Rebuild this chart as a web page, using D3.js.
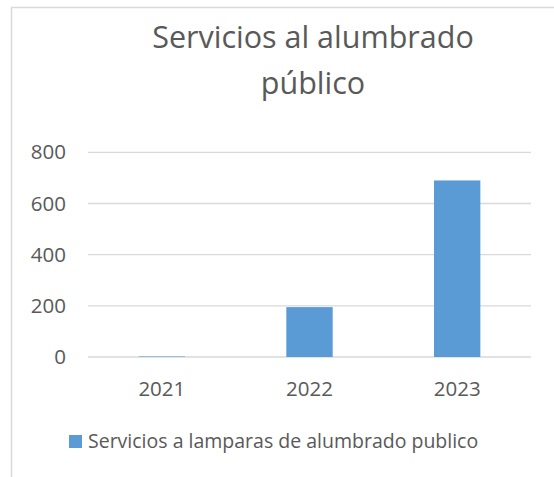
<!DOCTYPE html>
<html>
<head>
<meta charset="utf-8">
<script src="https://cdn.jsdelivr.net/npm/d3@7"></script>
<style>
  body { margin: 0; background: #fff; }
  svg { display: block; }
  text { font-family: "Open Sans", sans-serif; fill: #595959; }
</style>
</head>
<body>
<div id="chart"></div>
<script>
// data
var years = ["2021", "2022", "2023"];
var servicios = [2, 195, 690];
var yTicks = [0, 200, 400, 600, 800];
var titleLines = ["Servicios al alumbrado", "público"];
var seriesName = "Servicios a lamparas de alumbrado publico";

var width = 554, height = 477;
var barColor = "#5b9bd5";

var svg = d3.select("#chart")
  .append("svg")
    .attr("width", width)
    .attr("height", height);

// chart frame (cut off on right / bottom)
svg.append("path")
  .attr("d", "M11.5," + height + "V7.5H" + width)
  .attr("fill", "none")
  .attr("stroke", "#d9d9d9")
  .attr("stroke-width", 1.5);

// title
svg.append("text")
  .attr("text-anchor", "middle")
  .style("font-size", "30.5px")
  .selectAll("tspan")
  .data(titleLines)
  .enter().append("tspan")
    .attr("x", 313)
    .attr("y", function(d, i) { return 48 + i * 46; })
    .text(function(d) { return d; });

var plotLeft = 88, plotRight = 531, plotTop = 152.3, plotBottom = 357;

var x = d3.scaleBand()
  .domain(years)
  .range([plotLeft, plotRight])
  .paddingInner(0.686)
  .paddingOuter(0.343);

var y = d3.scaleLinear()
  .domain([0, 800])
  .range([plotBottom, plotTop]);

// gridlines
svg.append("g")
  .selectAll("line")
  .data(yTicks)
  .enter().append("line")
    .attr("x1", plotLeft)
    .attr("x2", plotRight)
    .attr("y1", function(d) { return y(d); })
    .attr("y2", function(d) { return y(d); })
    .attr("stroke", "#d9d9d9")
    .attr("stroke-width", 1.3);

// y axis labels
var yAxis = svg.append("g")
  .attr("transform", "translate(" + plotLeft + ",0)")
  .call(d3.axisLeft(y).tickValues(yTicks).tickSize(0).tickPadding(22));
yAxis.select(".domain").remove();
yAxis.selectAll("text")
  .style("font-size", "20.5px")
  .style("font-family", "Open Sans, sans-serif")
  .attr("fill", "#595959");

// bars
svg.append("g")
  .selectAll("rect")
  .data(servicios)
  .enter().append("rect")
    .attr("x", function(d, i) { return x(years[i]); })
    .attr("width", x.bandwidth())
    .attr("y", function(d) { return y(d); })
    .attr("height", function(d) { return plotBottom - y(d); })
    .attr("fill", barColor);

// x axis labels
var xAxis = svg.append("g")
  .attr("transform", "translate(0," + plotBottom + ")")
  .call(d3.axisBottom(x).tickSize(0).tickPadding(24));
xAxis.select(".domain").remove();
xAxis.selectAll("text")
  .style("font-size", "20.5px")
  .style("font-family", "Open Sans, sans-serif")
  .attr("fill", "#595959");

// legend
var legend = svg.append("g");
legend.append("rect")
  .attr("x", 69)
  .attr("y", 435)
  .attr("width", 13)
  .attr("height", 13)
  .attr("fill", barColor);
legend.append("text")
  .attr("x", 88)
  .attr("y", 448)
  .style("font-size", "19.5px")
  .text(seriesName);
</script>
</body>
</html>
